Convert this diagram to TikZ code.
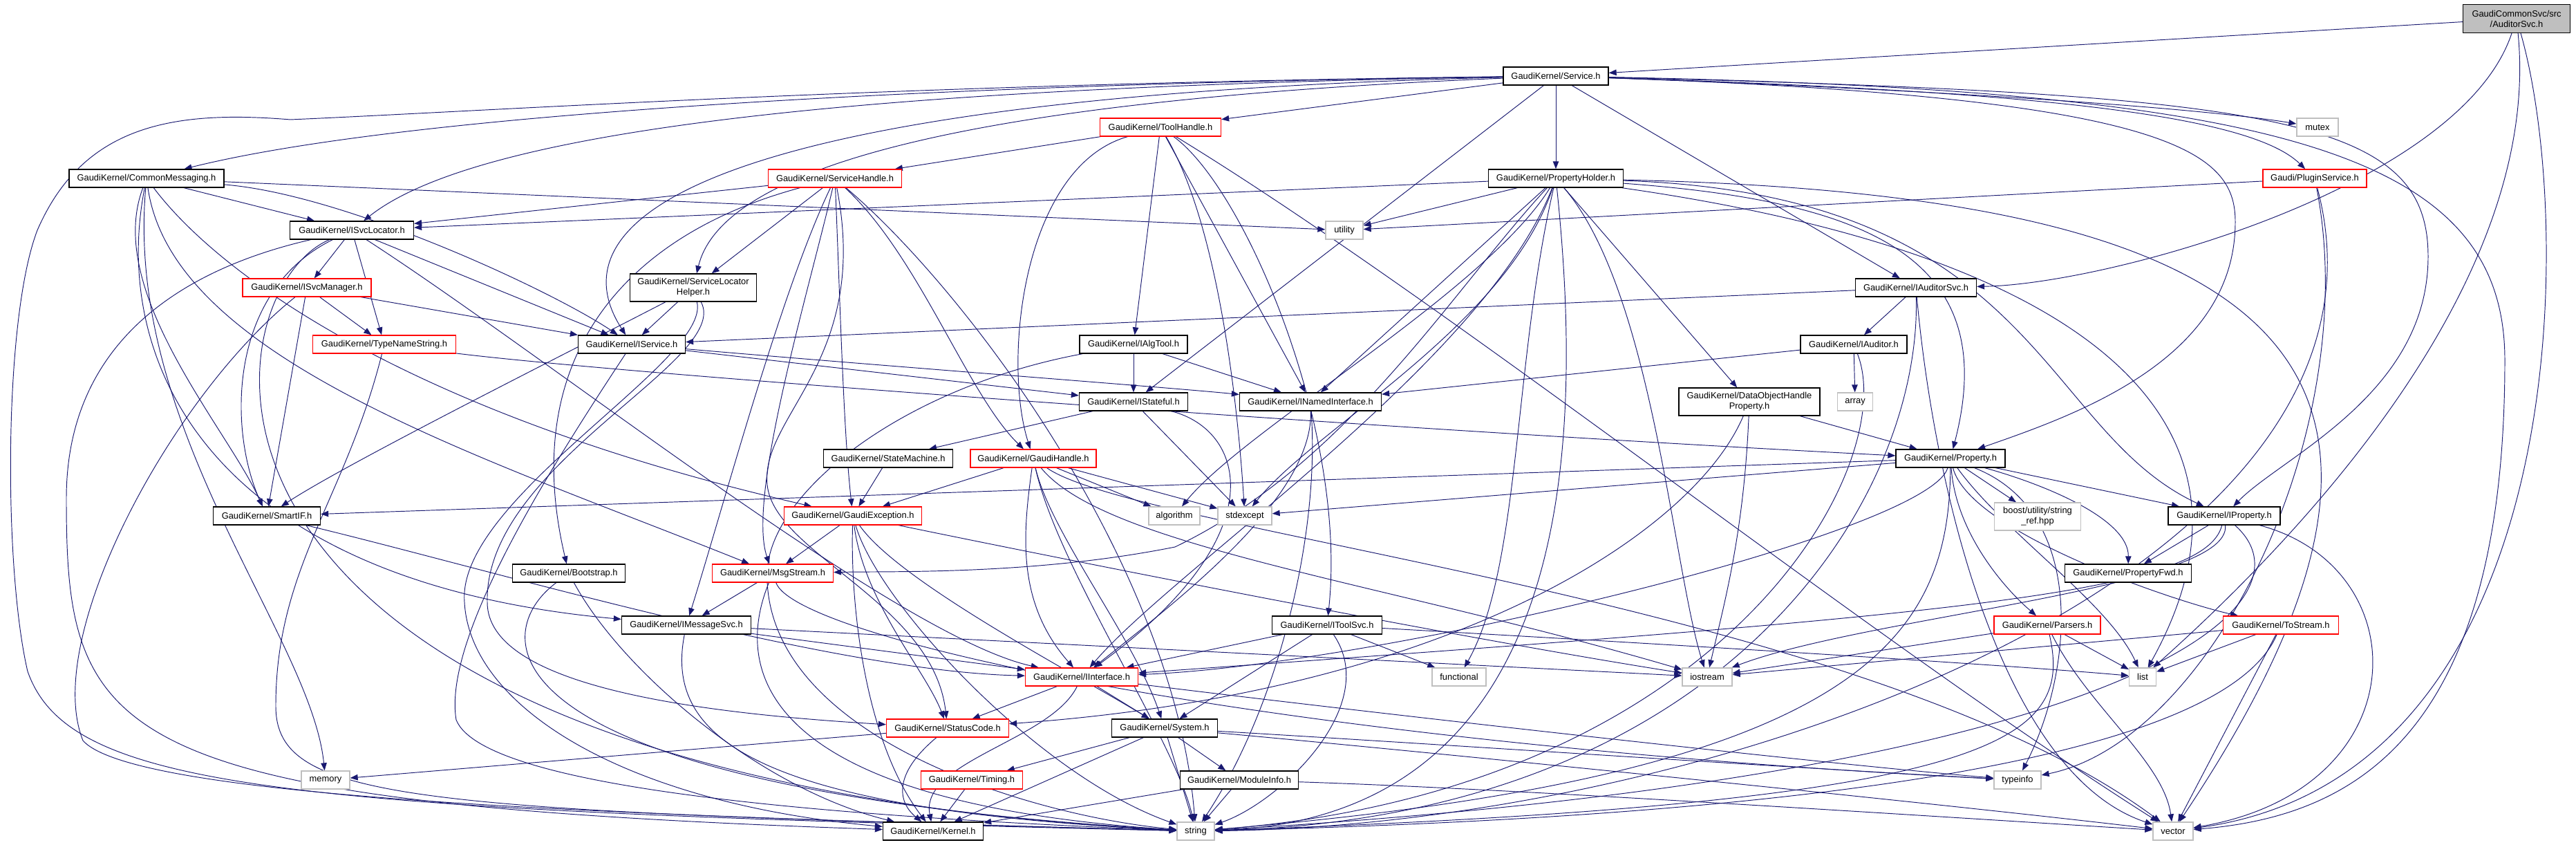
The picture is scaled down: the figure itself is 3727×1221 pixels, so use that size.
\documentclass[tikz,border=0pt]{standalone}
\usepackage{fontspec}
\setmainfont{Liberation Sans}
\usetikzlibrary{arrows.meta}
\pgfdeclarelayer{bg}
\pgfsetlayers{bg,main}
\definecolor{ecol}{HTML}{191970}
\definecolor{lgray}{HTML}{BFBFBF}
\definecolor{rcol}{HTML}{FF0000}
\begin{document}
\begin{tikzpicture}[x=1pt,y=1pt,
  nd/.style={draw=black, fill=white, line width=1.3pt, inner sep=0pt, minimum height=26pt, font=\fontsize{12.9}{15}\selectfont, align=center},
  rd/.style={nd, draw=rcol},
  lf/.style={nd, draw=lgray},
  e/.style={draw=ecol, line width=0.95pt, -{Triangle[length=11pt,width=8.5pt]}}]
\useasboundingbox (0,0) rectangle (3727,1221);
% nodes
\node[nd, fill=lgray, minimum width=155pt, minimum height=41pt] (au) at (3641,1194) {GaudiCommonSvc/src\\/AuditorSvc.h};
\node[nd, minimum width=152pt] (svc) at (2251,1111) {GaudiKernel/Service.h};
\node[rd, minimum width=175pt] (th) at (1679,1037) {GaudiKernel/ToolHandle.h};
\node[lf, minimum width=60pt] (mutex) at (3353,1037) {mutex};
\node[nd, minimum width=224pt] (cm) at (212,963) {GaudiKernel/CommonMessaging.h};
\node[rd, minimum width=193pt] (sh) at (1208,963) {GaudiKernel/ServiceHandle.h};
\node[nd, minimum width=195pt] (ph) at (2251,963) {GaudiKernel/PropertyHolder.h};
\node[rd, minimum width=150pt] (ps) at (3349,963) {Gaudi/PluginService.h};
\node[nd, minimum width=179pt] (isl) at (509,888) {GaudiKernel/ISvcLocator.h};
\node[lf, minimum width=54pt] (util) at (1945,888) {utility};
\node[nd, minimum width=183pt, minimum height=40pt] (slh) at (1003,805) {GaudiKernel/ServiceLocator\\Helper.h};
\node[nd, minimum width=175pt] (ias) at (2772,805) {GaudiKernel/IAuditorSvc.h};
\node[rd, minimum width=186pt] (ism) at (444,805) {GaudiKernel/ISvcManager.h};
\node[rd, minimum width=207pt] (tns) at (556,723) {GaudiKernel/TypeNameString.h};
\node[nd, minimum width=155pt] (isvc) at (914,723) {GaudiKernel/IService.h};
\node[nd, minimum width=156pt] (iat) at (1640,723) {GaudiKernel/IAlgTool.h};
\node[nd, minimum width=154pt] (iaud) at (2682,723) {GaudiKernel/IAuditor.h};
\node[nd, minimum width=157pt] (ist) at (1640,640) {GaudiKernel/IStateful.h};
\node[nd, minimum width=205pt] (ini) at (1896,640) {GaudiKernel/INamedInterface.h};
\node[lf, minimum width=51pt] (arr) at (2684,640) {array};
\node[nd, minimum width=204pt, minimum height=40pt] (dohp) at (2531,640) {GaudiKernel/DataObjectHandle\\Property.h};
\node[nd, minimum width=158pt] (prop) at (2822,558) {GaudiKernel/Property.h};
\node[nd, minimum width=187pt] (sm) at (1285,558) {GaudiKernel/StateMachine.h};
\node[rd, minimum width=182pt] (gh) at (1495,558) {GaudiKernel/GaudiHandle.h};
\node[nd, minimum width=155pt] (sif) at (386,475) {GaudiKernel/SmartIF.h};
\node[rd, minimum width=199pt] (gex) at (1234,475) {GaudiKernel/GaudiException.h};
\node[lf, minimum width=74pt] (algo) at (1699,475) {algorithm};
\node[lf, minimum width=78pt] (stdx) at (1801,475) {stdexcept};
\node[lf, minimum width=125pt, minimum height=40pt] (boost) at (2948,474) {boost/utility/string\\\_ref.hpp};
\node[nd, minimum width=162pt] (iprop) at (3218,475) {GaudiKernel/IProperty.h};
\node[nd, minimum width=163pt] (bs) at (823,392) {GaudiKernel/Bootstrap.h};
\node[rd, minimum width=175pt] (msg) at (1118,392) {GaudiKernel/MsgStream.h};
\node[nd, minimum width=183pt] (pfwd) at (3079,392) {GaudiKernel/PropertyFwd.h};
\node[nd, minimum width=187pt] (imsg) at (993,317) {GaudiKernel/IMessageSvc.h};
\node[nd, minimum width=159pt] (itool) at (1920,317) {GaudiKernel/IToolSvc.h};
\node[rd, minimum width=154pt] (par) at (2962,317) {GaudiKernel/Parsers.h};
\node[rd, minimum width=167pt] (ts) at (3300,317) {GaudiKernel/ToStream.h};
\node[lf, minimum width=78pt] (func) at (2111,242) {functional};
\node[lf, minimum width=72pt] (ios) at (2470,242) {iostream};
\node[rd, minimum width=163pt] (iint) at (1565,242) {GaudiKernel/IInterface.h};
\node[lf, minimum width=39pt] (lst) at (3100,242) {list};
\node[rd, minimum width=177pt] (sc) at (1371,168) {GaudiKernel/StatusCode.h};
\node[nd, minimum width=153pt] (sys) at (1685,168) {GaudiKernel/System.h};
\node[lf, minimum width=70pt] (mem) at (471,93) {memory};
\node[rd, minimum width=147pt] (tim) at (1406,93) {GaudiKernel/Timing.h};
\node[nd, minimum width=171pt] (mi) at (1793,93) {GaudiKernel/ModuleInfo.h};
\node[lf, minimum width=68pt] (ti) at (2919,93) {typeinfo};
\node[nd, minimum width=145pt] (ker) at (1350,19) {GaudiKernel/Kernel.h};
\node[lf, minimum width=54pt] (str) at (1730,19) {string};
\node[lf, minimum width=58pt] (vec) at (3144,19) {vector};
% edges
\begin{pgfonlayer}{bg}
% AuditorSvc
\draw[e] (au) -- (svc);
\draw[e] (au) .. controls (3560,950) and (3050,810) .. (ias);
\draw[e] (au) .. controls (3680,800) and (3300,420) .. (lst);
\draw[e] (au) .. controls (3725,900) and (3725,100) .. (vec);
% Service
\draw[e] (svc) -- (th);
\draw[e] (svc) .. controls (2700,1095) and (3150,1070) .. (mutex);
\draw[e] (svc) .. controls (1400,1100) and (600,1060) .. (cm);
\draw[e] (svc) -- (ph);
\draw[e] (svc) .. controls (2900,1090) and (3250,1060) .. (ps);
\draw[e] (svc) .. controls (1300,1095) and (700,1040) .. (isl);
\draw[e] (svc) .. controls (1500,1080) and (1050,1000) .. (slh);
\draw[e] (svc) -- (ias);
\draw[e] (svc) .. controls (1000,1080) and (800,900) .. (isvc);
\draw[e] (svc) -- (ist);
\draw[e] (svc) .. controls (3150,1080) and (3234,1000) .. (3234,900) .. controls (3234,700) and (3000,620) .. (prop);
\draw[e] (svc) .. controls (3300,1085) and (3513,1050) .. (3513,850) .. controls (3513,650) and (3300,560) .. (iprop);
\draw[e] (svc) .. controls (3300,1090) and (3624,1000) .. (3624,700) .. controls (3624,150) and (3400,40) .. (vec);
\draw[e] (svc) .. controls (1300,1100) and (700,1060) .. (420,1048) .. controls (250,1062) and (120,1040) .. (54,888) .. controls (5,760) and (5,400) .. (40,250) .. controls (100,80) and (400,50) .. (str);
% ToolHandle
\draw[e] (th) -- (sh);
\draw[e] (th) -- (iat);
\draw[e] (th) .. controls (1480,980) and (1450,700) .. (gh);
\draw[e] (th) -- (ini);
\draw[e] (th) .. controls (1800,950) and (1950,600) .. (itool);
\draw[e] (th) .. controls (1760,900) and (1790,650) .. (stdx);
\draw[e] (th) .. controls (2100,780) and (2700,300) .. (vec);
% CommonMessaging
\draw[e] (cm) -- (isl);
\draw[e] (cm) -- (util);
\draw[e] (cm) .. controls (500,940) and (800,800) .. (isvc);
\draw[e] (cm) .. controls (150,800) and (330,600) .. (sif);
\draw[e] (cm) .. controls (250,700) and (700,560) .. (msg);
\draw[e] (cm) .. controls (160,700) and (300,380) .. (imsg);
\draw[e] (cm) .. controls (320,820) and (600,620) .. (gex);
\draw[e] (cm) .. controls (180,600) and (450,300) .. (mem);
% ServiceHandle
\draw[e] (sh) -- (isl);
\draw[e] (sh) -- (slh);
\draw[e] (sh) .. controls (1130,800) and (1050,500) .. (imsg);
\draw[e] (sh) .. controls (1170,800) and (1080,500) .. (msg);
\draw[e] (sh) .. controls (1215,800) and (1220,600) .. (gex);
\draw[e] (sh) .. controls (1330,850) and (1400,650) .. (gh);
\draw[e] (sh) .. controls (900,880) and (750,700) .. (bs);
\draw[e] (sh) .. controls (1260,700) and (1100,620) .. (1110,520) .. controls (1120,420) and (1350,350) .. (sc);
\draw[e] (sh) .. controls (1400,800) and (1700,400) .. (str);
% PropertyHolder
\draw[e] (ph) -- (isl);
\draw[e] (ph) -- (util);
\draw[e] (ph) -- (ini);
\draw[e] (ph) .. controls (2100,800) and (1950,550) .. (1700,430) .. controls (1500,390) and (1300,395) .. (msg);
\draw[e] (ph) .. controls (2150,700) and (1700,400) .. (iint);
\draw[e] (ph) .. controls (2180,750) and (1900,600) .. (stdx);
\draw[e] (ph) .. controls (2150,800) and (1800,600) .. (algo);
\draw[e] (ph) .. controls (2190,700) and (2200,400) .. (func);
\draw[e] (ph) .. controls (2289,600) and (2289,40) .. (str);
\draw[e] (ph) .. controls (2391,800) and (2420,400) .. (ios);
\draw[e] (ph) -- (dohp);
\draw[e] (ph) .. controls (2700,930) and (2898,850) .. (prop);
\draw[e] (ph) .. controls (2949,940) and (2949,600) .. (iprop);
\draw[e] (ph) .. controls (3300,940) and (3600,700) .. (vec);
\draw[e] (ph) .. controls (3042,850) and (3300,600) .. (lst);
% PluginService
\draw[e] (ps) -- (util);
\draw[e] (ps) .. controls (3420,600) and (3200,150) .. (ti);
\draw[e] (ps) .. controls (3500,400) and (2500,30) .. (str);
% ISvcLocator
\draw[e] (isl) -- (ism);
\draw[e] (isl) -- (tns);
\draw[e] (isl) .. controls (330,800) and (330,600) .. (sif);
\draw[e] (isl) -- (isvc);
\draw[e] (isl) .. controls (800,700) and (1300,300) .. (iint);
\draw[e] (isl) .. controls (300,840) and (96,750) .. (96,500) .. controls (96,150) and (150,60) .. (ker);
\draw[e] (isl) .. controls (300,800) and (180,100) .. (str);
% ISvcManager
\draw[e] (ism) -- (tns);
\draw[e] (ism) -- (sif);
\draw[e] (ism) -- (isvc);
\draw[e] (ism) .. controls (250,650) and (60,300) .. (120,150) .. controls (200,60) and (1000,40) .. (str);
% TypeNameString
\draw[e] (tns) .. controls (900,680) and (2000,600) .. (prop);
\draw[e] (tns) .. controls (500,500) and (399,400) .. (399,200) .. controls (399,60) and (600,50) .. (str);
% ServiceLocatorHelper
\draw[e] (slh) -- (isvc);
\draw[e] (slh) .. controls (800,700) and (500,550) .. (sif);
\draw[e] (slh) .. controls (1060,700) and (700,550) .. (705,350) .. controls (705,230) and (1000,190) .. (sc);
\draw[e] (slh) .. controls (1030,700) and (660,500) .. (672,350) .. controls (680,200) and (900,60) .. (ker);
% IAuditorSvc
\draw[e] (ias) -- (isvc);
\draw[e] (ias) -- (iaud);
\draw[e] (ias) .. controls (2780,500) and (2500,40) .. (str);
\draw[e] (ias) .. controls (2800,500) and (2900,100) .. (vec);
% IAuditor
\draw[e] (iaud) -- (ini);
\draw[e] (iaud) -- (arr);
\draw[e] (iaud) .. controls (2750,550) and (2500,80) .. (str);
% IService
\draw[e] (isvc) -- (ist);
\draw[e] (isvc) .. controls (1300,690) and (1700,660) .. (ini);
\draw[e] (isvc) .. controls (800,550) and (640,300) .. (660,180) .. controls (700,80) and (1200,40) .. (str);
% IAlgTool
\draw[e] (iat) -- (ist);
\draw[e] (iat) -- (ini);
\draw[e] (iat) .. controls (1300,660) and (1100,500) .. (1110,380) .. controls (1120,150) and (1500,40) .. (str);
% IStateful
\draw[e] (ist) -- (sm);
\draw[e] (ist) .. controls (1800,600) and (1850,450) .. (iint);
\draw[e] (ist) -- (stdx);
% INamedInterface
\draw[e] (ini) .. controls (1900,500) and (1700,350) .. (iint);
\draw[e] (ini) .. controls (1910,450) and (1850,200) .. (str);
% StateMachine
\draw[e] (sm) -- (gex);
% GaudiHandle
\draw[e] (gh) -- (gex);
\draw[e] (gh) -- (algo);
\draw[e] (gh) -- (stdx);
\draw[e] (gh) .. controls (1480,450) and (1470,350) .. (iint);
\draw[e] (gh) .. controls (1520,450) and (1640,300) .. (sys);
\draw[e] (gh) .. controls (1530,400) and (1700,150) .. (str);
\draw[e] (gh) .. controls (1600,430) and (2000,380) .. (ios);
\draw[e] (gh) .. controls (1650,450) and (2700,350) .. (vec);
% DataObjectHandleProperty
\draw[e] (dohp) -- (prop);
\draw[e] (dohp) .. controls (2523,450) and (2495,350) .. (ios);
\draw[e] (dohp) .. controls (2450,450) and (2100,220) .. (sc);
% Property
\draw[e] (prop) -- (sif);
\draw[e] (prop) -- (stdx);
\draw[e] (prop) -- (boost);
\draw[e] (prop) -- (iprop);
\draw[e] (prop) .. controls (2960,520) and (3080,470) .. (pfwd);
\draw[e] (prop) .. controls (2830,450) and (2900,370) .. (par);
\draw[e] (prop) .. controls (2850,450) and (3150,350) .. (ts);
\draw[e] (prop) .. controls (3020,480) and (3000,250) .. (ti);
\draw[e] (prop) .. controls (2820,300) and (2700,100) .. (str);
\draw[e] (prop) .. controls (2790,450) and (2000,260) .. (iint);
\draw[e] (prop) .. controls (2900,450) and (3050,350) .. (lst);
% SmartIF
\draw[e] (sif) .. controls (700,400) and (1200,250) .. (iint);
% GaudiException
\draw[e] (gex) -- (msg);
\draw[e] (gex) .. controls (1250,350) and (1340,250) .. (sc);
\draw[e] (gex) .. controls (1300,380) and (1550,250) .. (sys);
\draw[e] (gex) .. controls (1270,350) and (1500,100) .. (str);
\draw[e] (gex) .. controls (1500,420) and (2100,300) .. (ios);
\draw[e] (gex) .. controls (1230,350) and (1250,150) .. (ker);
% IProperty
\draw[e] (iprop) -- (pfwd);
\draw[e] (iprop) .. controls (3190,360) and (2800,330) .. (iint);
\draw[e] (iprop) .. controls (3230,370) and (2700,330) .. (ios);
\draw[e] (iprop) .. controls (3360,350) and (3100,100) .. (str);
\draw[e] (iprop) .. controls (3500,400) and (3500,80) .. (vec);
% Bootstrap
\draw[e] (bs) .. controls (700,300) and (700,80) .. (str);
\draw[e] (bs) .. controls (900,250) and (1100,80) .. (ker);
% MsgStream
\draw[e] (msg) -- (imsg);
\draw[e] (msg) .. controls (1060,250) and (1100,60) .. (str);
\draw[e] (msg) .. controls (1150,300) and (1800,150) .. (ti);
% IMessageSvc
\draw[e] (imsg) -- (iint);
\draw[e] (imsg) -- (ios);
\draw[e] (imsg) .. controls (960,150) and (1100,50) .. (str);
% IToolSvc
\draw[e] (itool) -- (func);
\draw[e] (itool) -- (iint);
\draw[e] (itool) -- (sys);
\draw[e] (itool) .. controls (2000,200) and (1850,60) .. (str);
\draw[e] (itool) .. controls (2400,290) and (2900,260) .. (lst);
% Parsers
\draw[e] (par) -- (lst);
\draw[e] (par) .. controls (3020,200) and (3130,120) .. (vec);
\draw[e] (par) .. controls (3000,150) and (2900,60) .. (str);
\draw[e] (par) -- (ios);
% ToStream
\draw[e] (ts) -- (lst);
\draw[e] (ts) -- (vec);
\draw[e] (ts) .. controls (3250,200) and (3000,50) .. (str);
\draw[e] (ts) -- (ios);
% IInterface
\draw[e] (iint) -- (sc);
\draw[e] (iint) -- (sys);
\draw[e] (iint) .. controls (1520,150) and (1330,120) .. (ker);
\draw[e] (iint) .. controls (1900,200) and (2600,120) .. (ti);
% StatusCode
\draw[e] (sc) .. controls (1290,100) and (1300,60) .. (ker);
\draw[e] (sc) -- (mem);
% System
\draw[e] (sys) -- (tim);
\draw[e] (sys) -- (ker);
\draw[e] (sys) -- (mi);
\draw[e] (sys) -- (str);
\draw[e] (sys) .. controls (2000,150) and (2600,110) .. (ti);
\draw[e] (sys) .. controls (2000,140) and (2800,60) .. (vec);
% ModuleInfo
\draw[e] (mi) -- (ker);
\draw[e] (mi) -- (str);
\draw[e] (mi) .. controls (2200,80) and (2800,40) .. (vec);
% Timing
\draw[e] (tim) -- (ker);
\end{pgfonlayer}
\end{tikzpicture}
\end{document}
